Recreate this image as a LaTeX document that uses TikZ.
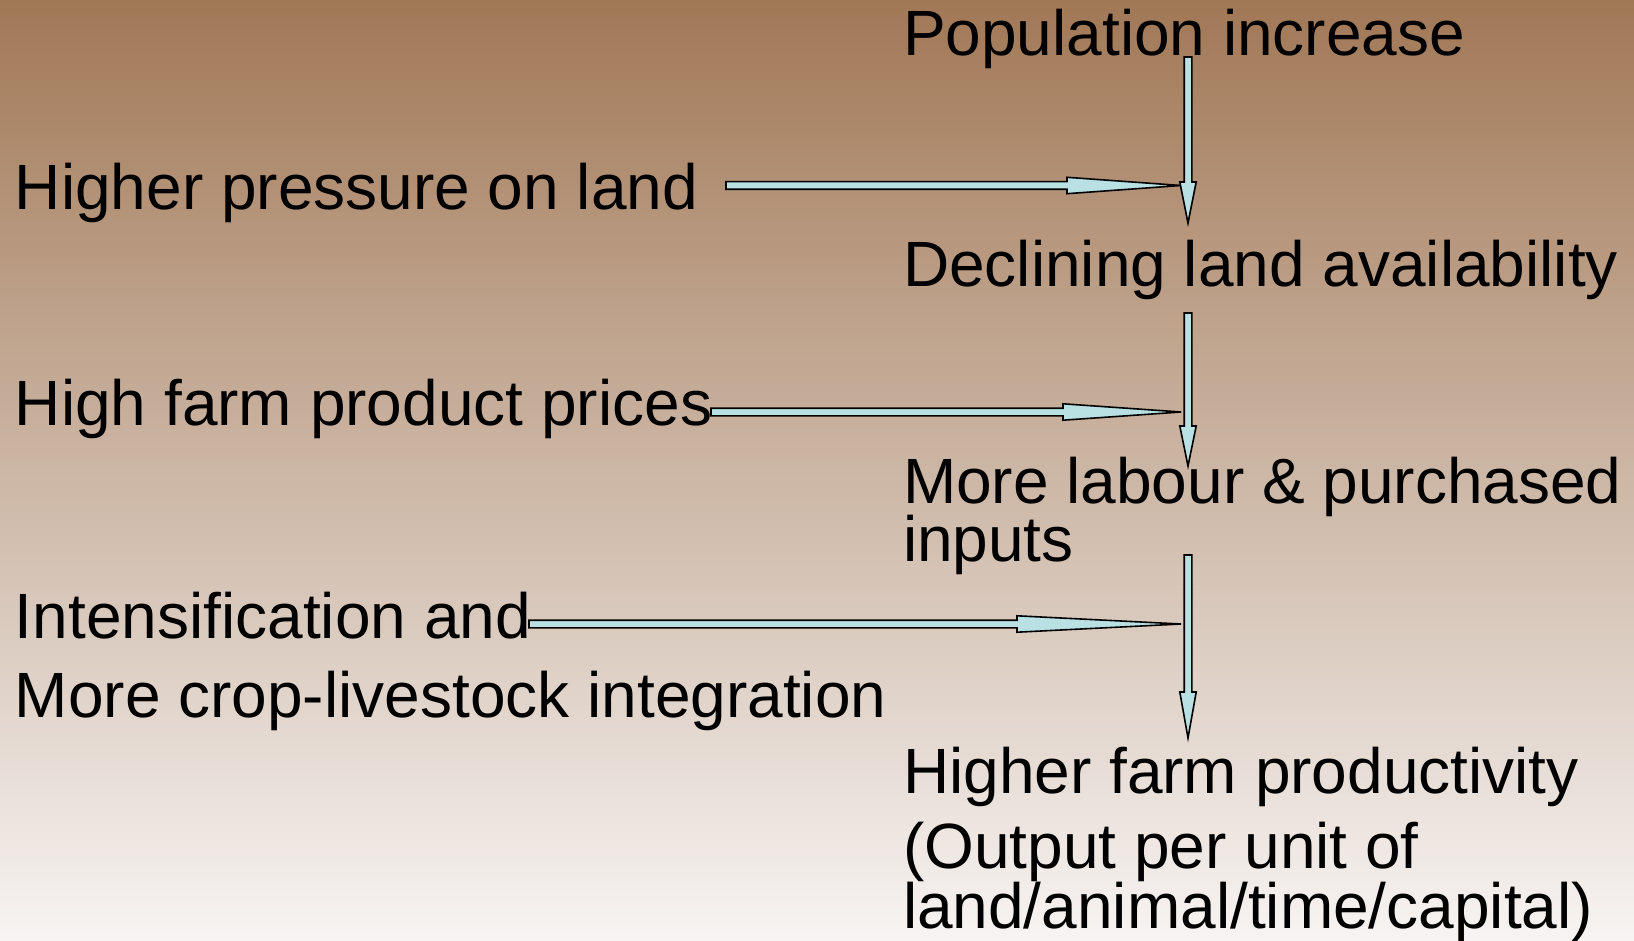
\documentclass[tikz,border=0pt]{standalone}
\usepackage{fontspec}
\setmainfont{Liberation Sans}
\usetikzlibrary{calc}
\definecolor{bgtop}{HTML}{A17856}
\definecolor{bgbot}{HTML}{F7F4F3}
\definecolor{arrfill}{HTML}{B9E1E4}
\newcommand\fatarrow[3]{%
  \filldraw[arrowbody]
    ($(#1)!1.9pt!90:(#2)$) -- ($(#2)!1.9pt!90:(#3)$) -- ($(#2)!4.1pt!90:(#3)$) --
    (#3) -- ($(#2)!4.1pt!-90:(#3)$) -- ($(#2)!1.9pt!-90:(#3)$) --
    ($(#1)!1.9pt!-90:(#2)$) -- cycle;}
\begin{document}
\begin{tikzpicture}[x=0.5pt,y=-0.5pt,
  lbl/.style={anchor=base west,inner sep=0pt,outer sep=0pt,font=\fontsize{32}{30}\selectfont,align=left},
  arrowbody/.style={fill=arrfill,draw=black,line width=0.8pt,line join=miter}]
\shade[top color=bgtop,bottom color=bgbot] (0,0) rectangle (1634,941);
\useasboundingbox (0,0) rectangle (1634,941);
% texts
\node[lbl] (pop) at (903,56) {Population increase};
\node[lbl] (press) at (15,210) {Higher pressure on land};
\node[lbl] (decl) at (903,286.5) {Declining land availability};
\node[lbl] (price) at (15,425) {High farm product prices};
\node[lbl] (lab1) at (903,503) {More labour \& purchased};
\node[lbl] (lab2) at (903,561) {inputs};
\node[lbl] (int1) at (15,638) {Intensification and};
\node[lbl] (int2) at (15,717) {More crop-livestock integration};
\node[lbl] (prod1) at (903,793) {Higher farm productivity};
\node[lbl] (prod2) at (903,868) {(Output per unit of};
\node[lbl] (prod3) at (903,928) {land/animal/time/capital)};
% arrow coordinates
\coordinate (v1s) at (1188,57);  \coordinate (v1h) at (1188,182); \coordinate (v1t) at (1188,223);
\coordinate (v2s) at (1188,313); \coordinate (v2h) at (1188,426); \coordinate (v2t) at (1188,466);
\coordinate (v3s) at (1188,555); \coordinate (v3h) at (1188,692); \coordinate (v3t) at (1188,738);
\coordinate (h1s) at (726,185.5); \coordinate (h1h) at (1067,185.5); \coordinate (h1t) at (1181,185.5);
\coordinate (h2s) at (711,412);   \coordinate (h2h) at (1063,412);   \coordinate (h2t) at (1181,412);
\coordinate (h3s) at (529,624);   \coordinate (h3h) at (1017,624);   \coordinate (h3t) at (1181,624);
\fatarrow{h1s}{h1h}{h1t}
\fatarrow{h2s}{h2h}{h2t}
\fatarrow{h3s}{h3h}{h3t}
\fatarrow{v1s}{v1h}{v1t}
\fatarrow{v2s}{v2h}{v2t}
\fatarrow{v3s}{v3h}{v3t}
\end{tikzpicture}
\end{document}
